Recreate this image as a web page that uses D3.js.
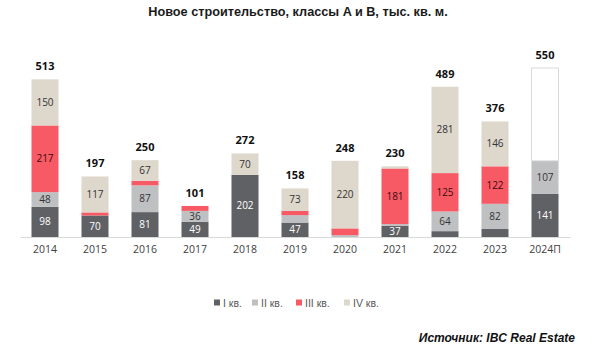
<!DOCTYPE html>
<html>
<head>
<meta charset="utf-8">
<script src="https://cdn.jsdelivr.net/npm/d3@7"></script>
<style>
  body { margin: 0; background: #fff; }
  svg { display: block; }
</style>
</head>
<body>
<svg id="chart" width="600" height="351"></svg>
<script>
const years = ['2014', '2015', '2016', '2017', '2018', '2019', '2020', '2021', '2022', '2023', '2024П'];
const q1 = [98, 70, 81, 49, 202, 47, 0, 37, 19, 26, 141];
const q2 = [48, 0, 87, 36, 0, 24, 6, 5, 64, 82, 107];
const q3 = [217, 10, 15, 16, 0, 14, 22, 181, 125, 122, 0];
const q4 = [150, 117, 67, 0, 70, 73, 220, 7, 281, 146, 0];
// remainder of the forecast year, drawn as an empty box
const forecastRest = [0, 0, 0, 0, 0, 0, 0, 0, 0, 0, 302];
const totals = [513, 197, 250, 101, 272, 158, 248, 230, 489, 376, 550];
const quarterNames = ['I кв.', 'II кв.', 'III кв.', 'IV кв.'];

const colors = {q1: '#5f6165', q2: '#bfc0c2', q3: '#f75a64', q4: '#ddd7cc', rest: '#ffffff'};
const seriesKeys = ['q1', 'q2', 'q3', 'q4', 'rest'];

const rows = years.map((year, i) => ({
  year, q1: q1[i], q2: q2[i], q3: q3[i], q4: q4[i], rest: forecastRest[i], total: totals[i]
}));

const svg = d3.select('#chart');
const margin = {left: 20, right: 30, top: 68, bottom: 114};
const width = 600, height = 351;

const x = d3.scaleBand()
  .domain(years)
  .range([margin.left, width - margin.right])
  .paddingInner(0.46)
  .paddingOuter(0.23);

const y = d3.scaleLinear()
  .domain([0, 550])
  .range([height - margin.bottom, margin.top]);

const stacked = d3.stack().keys(seriesKeys)(rows);

// title
svg.append('text')
  .attr('x', 298)
  .attr('y', 16)
  .attr('text-anchor', 'middle')
  .attr('font-family', 'Liberation Sans, Arial, sans-serif')
  .attr('font-weight', 'bold')
  .attr('font-size', 12.7)
  .attr('fill', '#1a1a1a')
  .text('Новое строительство, классы A и B, тыс. кв. м.');

const layers = svg.append('g').selectAll('g')
  .data(stacked)
  .join('g')
  .attr('fill', d => colors[d.key]);

layers.selectAll('rect')
  .data(d => d.map(p => ({...p, key: d.key})))
  .join('rect')
  .attr('x', d => x(d.data.year))
  .attr('width', x.bandwidth())
  .attr('y', d => y(d[1]))
  .attr('height', d => y(d[0]) - y(d[1]))
  .attr('stroke', d => d.key === 'rest' && d[1] > d[0] ? '#d9d9d9' : 'none')
  .attr('stroke-width', 1);

// segment labels
layers.selectAll('text')
  .data(d => d.map(p => ({...p, key: d.key})).filter(p => p[1] - p[0] >= 30 && p.key !== 'rest'))
  .join('text')
  .attr('x', d => x(d.data.year) + x.bandwidth() / 2)
  .attr('y', d => (y(d[0]) + y(d[1])) / 2)
  .attr('dy', '0.35em')
  .attr('text-anchor', 'middle')
  .attr('font-family', 'Open Sans, sans-serif')
  .attr('font-size', 10)
  .attr('fill', d => d.key === 'q1' ? '#ffffff' : d.key === 'q3' ? '#3a0a0e' : '#333333')
  .text(d => d[1] - d[0]);

// totals
svg.append('g').selectAll('text')
  .data(rows)
  .join('text')
  .attr('x', d => x(d.year) + x.bandwidth() / 2)
  .attr('y', d => y(d.total) - 9)
  .attr('text-anchor', 'middle')
  .attr('font-family', 'Open Sans, sans-serif')
  .attr('font-weight', 'bold')
  .attr('font-size', 11)
  .attr('fill', '#111')
  .text(d => d.total);

// x axis
svg.append('g')
  .attr('transform', `translate(0,${y(0)})`)
  .call(d3.axisBottom(x).tickSize(0).tickPadding(9))
  .call(g => g.select('.domain').attr('stroke', '#d9d9d9'))
  .call(g => g.selectAll('text')
    .attr('font-family', 'Open Sans, sans-serif')
    .attr('font-size', 10.5)
    .attr('fill', '#404040'));

// legend
const legend = svg.append('g')
  .attr('font-family', 'Liberation Sans, Arial, sans-serif')
  .attr('font-size', 10.5)
  .attr('fill', '#595959');
const legendX = [214, 252, 296, 344];
quarterNames.forEach((name, i) => {
  const g = legend.append('g').attr('transform', `translate(${legendX[i]},303)`);
  g.append('rect')
    .attr('x', 0).attr('y', -3.5)
    .attr('width', 6).attr('height', 6)
    .attr('fill', colors[seriesKeys[i]]);
  g.append('text')
    .attr('x', 9)
    .attr('dy', '0.35em')
    .text(name);
});

// source
svg.append('text')
  .attr('x', 575)
  .attr('y', 342)
  .attr('text-anchor', 'end')
  .attr('font-family', 'Liberation Sans, Arial, sans-serif')
  .attr('font-weight', 'bold')
  .attr('font-style', 'italic')
  .attr('font-size', 12)
  .attr('fill', '#111')
  .text('Источник: IBC Real Estate');
</script>
</body>
</html>
